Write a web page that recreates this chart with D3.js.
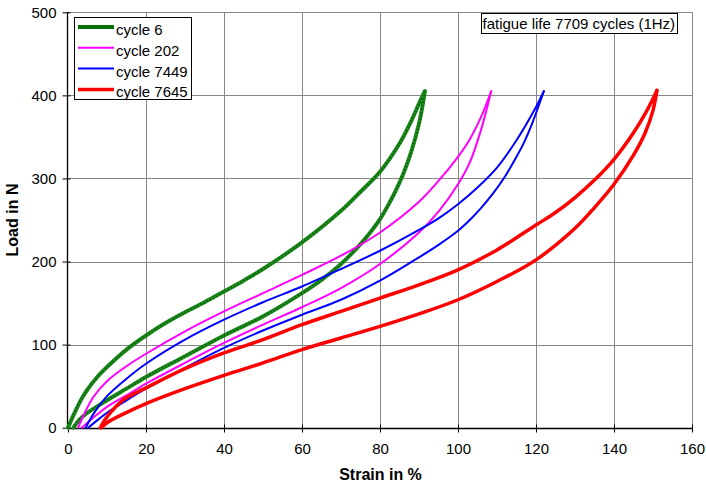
<!DOCTYPE html>
<html>
<head>
<meta charset="utf-8">
<script src="https://cdn.jsdelivr.net/npm/d3@7"></script>
<style>
  body { margin: 0; background: #fff; }
  svg { font-family: "Liberation Sans", Arial, sans-serif; }
</style>
</head>
<body>
<svg width="706" height="483"></svg>
<script>
// strain in %, load in N — loading branch then unloading branch for each cycle
const cycle6Load = [[0,0],[1,11],[2,21],[3.5,35],[5,46],[7.5,61],[10,73],[15,94],[20,111],[25,126],[30,139],[35,151],[40,164],[45,177],[50,191],[60,223],[70,261],[75,284],[80,308],[85,342],[88,369],[90,390],[91.5,405]];
const cycle6Unload = [[91.5,405],[91,390],[90,366],[88,332],[86,306],[84,285],[82,267],[80,251],[78,238],[75,221],[70,197],[65,178],[60,162],[50,134],[40,111],[30,86],[20,61],[15,47],[10,33],[5,18],[3,10],[1.4,0]];

const cycle202Load = [[2.6,0],[4,15],[6.5,37],[10,56],[15,74],[20,89],[30,116],[40,140],[50,162],[60,184],[70,207],[80,235],[90,272],[95,297],[100,326],[103,347],[106,375],[108.5,405]];
const cycle202Unload = [[108.5,405],[106,360],[103,319],[100,293],[95,260],[90,235],[80,197],[70,168],[60,145],[50,124],[40,102],[30,78],[20,53],[15,39],[10,25],[7,14],[3.5,0]];

const cycle7449Load = [[4.5,0],[7,20],[10,38],[15,59],[20,77],[30,106],[40,130],[50,151],[60,170],[70,191],[80,213],[90,238],[95,252],[100,269],[105,289],[110,313],[115,346],[120,386],[122,405]];
const cycle7449Unload = [[122,405],[119,366],[117,344],[115,326],[112,302],[109,282],[106,265],[103,250],[100,237],[95,220],[90,205],[80,177],[70,154],[60,136],[50,117],[40,96],[30,72],[20,47],[15,33],[10,18],[7,7],[5.2,0]];

const cycle7645Load = [[8.3,0],[9,6],[10,13],[12,24],[14,33],[17,41],[20,48],[30,71],[40,90],[50,106],[60,124],[70,140],[80,156],[90,172],[100,190],[110,214],[120,244],[125,259],[130,277],[135,298],[140,323],[145,355],[148,378],[150,396],[151,406]];
const cycle7645Unload = [[151,406],[150,382],[148,355],[145,328],[140,293],[135,265],[130,240],[120,202],[110,176],[100,154],[90,137],[80,122],[70,108],[60,94],[50,78],[40,63],[30,47],[20,29],[14,16],[10,6],[8.5,0]];

const seriesNames = ['cycle 6', 'cycle 202', 'cycle 7449', 'cycle 7645'];
const seriesColors = ['#1e8a1e', '#ff00ff', '#0000ff', '#ff0000'];
const seriesWidths = [4, 2, 2, 3.5];
const seriesData = [
  [cycle6Load, cycle6Unload],
  [cycle202Load, cycle202Unload],
  [cycle7449Load, cycle7449Unload],
  [cycle7645Load, cycle7645Unload],
];

const xTicks = [0, 20, 40, 60, 80, 100, 120, 140, 160];
const yTicks = [0, 100, 200, 300, 400, 500];

const svg = d3.select('svg');
const plotLeft = 68, plotRight = 692, plotTop = 12.3, plotBottom = 427.7;

const x = d3.scaleLinear().domain([0, 160]).range([plotLeft, plotRight]);
const y = d3.scaleLinear().domain([0, 500]).range([plotBottom, plotTop]);

// grid
const grid = svg.append('g').attr('stroke', '#888').attr('stroke-width', 1);
grid.selectAll('.vx').data(xTicks.slice(1)).enter().append('line')
  .attr('x1', (d) => Math.round(x(d)) + 0.5).attr('x2', (d) => Math.round(x(d)) + 0.5)
  .attr('y1', plotTop).attr('y2', plotBottom);
grid.selectAll('.hy').data(yTicks.slice(1)).enter().append('line')
  .attr('x1', plotLeft).attr('x2', plotRight)
  .attr('y1', (d) => Math.round(y(d)) + 0.5).attr('y2', (d) => Math.round(y(d)) + 0.5);

// axes
const xAxis = svg.append('g')
  .attr('transform', `translate(0,${Math.round(plotBottom) + 0.5})`)
  .call(d3.axisBottom(x).tickValues(xTicks).tickSize(4).tickPadding(11));
xAxis.selectAll('.tick line').attr('y1', -4).attr('y2', 4);
const yAxis = svg.append('g')
  .attr('transform', `translate(${Math.round(plotLeft) - 0.5},0)`)
  .call(d3.axisLeft(y).tickValues(yTicks).tickSize(5).tickPadding(6));
yAxis.selectAll('.tick line').attr('x2', -5).attr('x1', 3);
svg.selectAll('.domain').attr('stroke', '#000').attr('stroke-width', 1.3);
svg.selectAll('.tick line').attr('stroke', '#000');
svg.selectAll('.tick text').attr('font-size', 15).attr('fill', '#000')
  .attr('font-family', '"Liberation Sans", Arial, sans-serif');
xAxis.select('.domain').attr('d', `M${plotLeft},0H${plotRight}`);
yAxis.select('.domain').attr('d', `M0,${plotTop}V${plotBottom}`);

// curves
const line = d3.line()
  .curve(d3.curveCatmullRom.alpha(0.5))
  .x((d) => x(d[0]))
  .y((d) => y(d[1]));

const curves = svg.append('g');
seriesData.forEach((branches, i) => {
  branches.forEach((pts) => {
    curves.append('path')
      .attr('d', line(pts))
      .attr('fill', 'none')
      .attr('stroke', seriesColors[i])
      .attr('stroke-width', seriesWidths[i])
      .attr('stroke-linejoin', 'round')
      .attr('stroke-linecap', 'round');
    if (i === 0) {
      // darker speckle on the thick green line
      curves.append('path')
        .attr('d', line(pts))
        .attr('fill', 'none')
        .attr('stroke', '#0a6a0a')
        .attr('stroke-width', 2.5)
        .attr('stroke-dasharray', '1.5 2');
    }
  });
});

// legend
const legend = svg.append('g');
legend.append('rect')
  .attr('x', 74.5).attr('y', 17.5).attr('width', 117).attr('height', 82)
  .attr('fill', '#fff').attr('stroke', '#000');
seriesNames.forEach((name, i) => {
  const yy = 27 + i * 20.8;
  legend.append('line')
    .attr('x1', 78).attr('x2', 114).attr('y1', yy).attr('y2', yy)
    .attr('stroke', i === 0 ? '#007000' : seriesColors[i])
    .attr('stroke-width', seriesWidths[i]);
  legend.append('text')
    .attr('x', 116).attr('y', yy + 8)
    .attr('font-size', 15)
    .text(name);
});

// annotation
svg.append('rect')
  .attr('x', 481.5).attr('y', 13.5).attr('width', 196).attr('height', 20)
  .attr('fill', '#fff').attr('stroke', '#000');
svg.append('text')
  .attr('x', 482.5).attr('y', 29)
  .attr('font-size', 15)
  .text('fatigue life 7709 cycles (1Hz)');

// axis titles
svg.append('text')
  .attr('x', (plotLeft + plotRight) / 2 + 0.5).attr('y', 480)
  .attr('text-anchor', 'middle')
  .attr('font-size', 16).attr('font-weight', 'bold')
  .text('Strain in %');
svg.append('text')
  .attr('transform', `translate(18,${(plotTop + plotBottom) / 2}) rotate(-90)`)
  .attr('text-anchor', 'middle')
  .attr('font-size', 16).attr('font-weight', 'bold')
  .text('Load in N');
</script>
</body>
</html>
